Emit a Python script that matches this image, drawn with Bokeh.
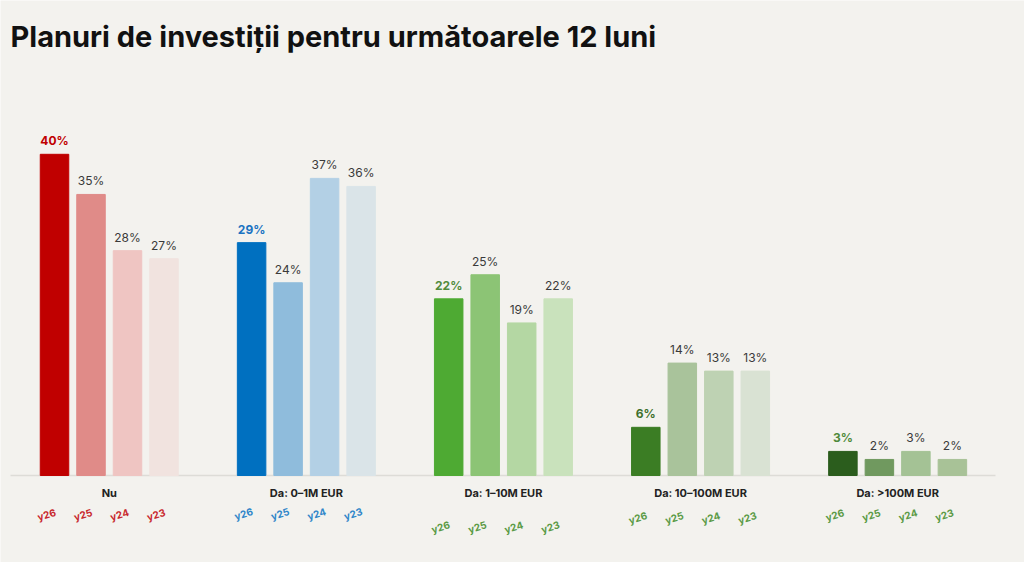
from bokeh.plotting import figure
from bokeh.models import ColumnDataSource, Range1d, LabelSet
from bokeh.core.properties import value
from bokeh.embed import file_html
from bokeh.resources import INLINE

# ---- data ----
categories = ["Nu", "Da: 0\u20131M EUR", "Da: 1\u201310M EUR", "Da: 10\u2013100M EUR", "Da: >100M EUR"]
years = ["y26", "y25", "y24", "y23"]
vals_y26 = [40, 29, 22, 6, 3]
vals_y25 = [35, 24, 25, 14, 2]
vals_y24 = [28, 37, 19, 13, 3]
vals_y23 = [27, 36, 22, 13, 2]
title_text = "Planuri de investi\u021bii pentru urm\u0103toarele 12 luni"

# ---- styles ----
bar_colors = [
    ["#c00000", "#e08b88", "#efc5c2", "#f1e3df"],
    ["#0070c0", "#8fbcdc", "#b3d0e5", "#dae4e8"],
    ["#4eaa33", "#8cc475", "#b4d7a3", "#c9e2bc"],
    ["#3b7d24", "#a9c39b", "#bed2b3", "#d9e2d3"],
    ["#2b5d1d", "#70995f", "#a4c295", "#a8c297"],
]
first_label_colors = ["#c00000", "#1a73c2", "#4f8a3b", "#3d6f2c", "#4f8a3b"]
year_label_colors = ["#c8282d", "#2f86c9", "#5a9a45", "#5a9a45", "#5a9a45"]
year_label_dy = [-4.85, -4.75, -6.4, -5.25, -4.9]

BG = "#f3f2ee"
GROUP_GAP = 5.4
PX_X = 36.5   # px per x unit
PX_Y = 8.03   # px per percent
X0 = 54.0     # px of first bar centre
Y0 = 475.0    # px of baseline
W, H = 1024, 562

series = [vals_y26, vals_y25, vals_y24, vals_y23]
xs, tops, colors, labels, lcolors, lstyles, yl_x, yl_y, yl_t, yl_c = [], [], [], [], [], [], [], [], [], []
for g, cat in enumerate(categories):
    for j, yr in enumerate(years):
        x = g * GROUP_GAP + j
        v = series[j][g]
        xs.append(x)
        tops.append(v)
        colors.append(bar_colors[g][j])
        labels.append(f"{v}%")
        lcolors.append(first_label_colors[g] if j == 0 else "#3a3a3a")
        lstyles.append("bold" if j == 0 else "normal")
        yl_x.append(x - 0.22)
        yl_y.append(year_label_dy[g])
        yl_t.append(yr)
        yl_c.append(year_label_colors[g])

src = ColumnDataSource(dict(x=xs, top=tops, color=colors, label=labels,
                            lcolor=lcolors, lstyle=lstyles))
ysrc = ColumnDataSource(dict(x=yl_x, y=yl_y, t=yl_t, c=yl_c))

x_start = -X0 / PX_X
x_end = (W - X0) / PX_X
y_end = Y0 / PX_Y
y_start = -(H - Y0) / PX_Y

p = figure(width=W, height=H, output_backend="svg", toolbar_location=None,
           x_range=Range1d(x_start, x_end), y_range=Range1d(y_start, y_end),
           min_border=0, background_fill_color=BG, border_fill_color=BG)
p.axis.visible = False
p.grid.visible = False
p.outline_line_color = None

# baseline
p.segment(x0=[(10 - X0) / PX_X], y0=[0], x1=[(995 - X0) / PX_X], y1=[0],
          line_color="#dddcd7", line_width=1.5)

p.vbar(x="x", top="top", width=28.5 / PX_X, bottom=0, color="color", source=src)

p.text(x="x", y="top", text="label", source=src, text_color="lcolor",
       text_font_style="lstyle", text_font=value("Inter"), text_font_size="12px",
       text_align="center", text_baseline="bottom", y_offset=-6)

# category labels
p.text(x=[g * GROUP_GAP + 1.5 for g in range(len(categories))], y=[-17 / PX_Y] * len(categories),
       text=categories, text_font=value("Inter"), text_font_style="bold",
       text_font_size="11px", text_color="#222222",
       text_align="center", text_baseline="middle")

# year labels (tilted)
yl = LabelSet(x="x", y="y", text="t", source=ysrc, text_color="c", angle=0.3,
              text_font=value("Inter"), text_font_style="bold", text_font_size="10px",
              text_align="center", text_baseline="middle")
p.add_layout(yl)

# title
p.text(x=[(10 - X0) / PX_X], y=[(Y0 - 36) / PX_Y], text=[title_text],
       text_font=value("Inter"), text_font_style="bold", text_font_size="29px",
       text_color="#111111", text_align="left", text_baseline="middle")

open("out.html", "w").write(file_html(p, INLINE))
